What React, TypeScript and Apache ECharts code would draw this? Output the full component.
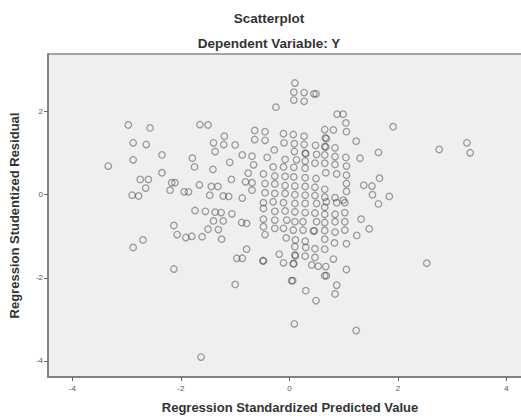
import React, { useEffect, useRef } from "react";
import * as echarts from "echarts";

const titleText = "Scatterplot";
const subtitleText = "Dependent Variable: Y";
const xAxisName = "Regression Standardized Predicted Value";
const yAxisName = "Regression Studentized Residual";
const xTicks = [-4, -2, 0, 2, 4];
const yTicks = [-4, -2, 0, 2];
const xRange = [-4.45, 4.47];
const yRange = [-4.39, 3.39];

const predicted = [
  0.10, 0.08, 0.27, 0.45, 0.49, 0.08, 0.27, -0.25, 0.88, 0.99,
  1.04, -2.97, -2.57, -1.65, -1.50, 1.91, 0.65, 0.81, 1.05, -1.20,
  -0.64, -0.45, -0.64, -0.45, -0.11, 0.07, 0.27, 0.66, 0.68, 1.23,
  3.27, 3.33, 2.76, -2.88, -2.64, -1.40, -1.21, -1.00, -0.10, 0.09,
  0.27, 0.48, 0.65, 0.67, 0.84, 1.64, -2.35, -1.37, -0.87, -0.69,
  -0.41, -0.28, 0.09, 0.29, 0.30, 0.50, 0.65, 0.84, 1.04, 1.30,
  -2.88, -3.34, -1.79, -1.75, -1.10, -1.41, -0.66, -0.08, 0.13, 0.29,
  -0.30, -0.11, 0.08, 0.29, 0.47, 0.65, 0.84, 1.05, -2.35, -0.76,
  -0.48, -2.75, -2.60, -2.65, -2.17, -2.11, -1.66, -1.44, -1.32, -1.07,
  -0.81, -0.69, -0.27, -0.08, 0.08, 0.29, 0.49, 0.67, 0.87, 1.05,
  1.66, -0.45, -0.27, -0.08, 0.10, 0.29, 0.47, 0.65, 1.05, 1.05,
  1.37, 1.52, -2.20, -1.94, -1.86, -1.47, -2.90, -2.78, -1.22, -1.12,
  -0.87, -0.69, -0.45, -0.27, -0.08, 0.10, 0.29, 0.47, 0.65, 0.84,
  1.53, 1.84, 1.64, 0.99, -0.48, -0.30, -0.11, 0.10, 0.29, 0.50,
  0.68, 0.87, 1.02, -1.74, -1.55, -1.37, -1.26, -1.06, -0.48, -0.27,
  -0.08, 0.10, 0.29, 0.47, 0.65, 0.84, 1.02, 0.65, -1.40, -1.22,
  -0.88, -0.79, -0.48, -0.27, -0.05, 0.10, 0.25, 0.50, 0.65, 0.84,
  1.02, 1.32, -2.13, -2.07, -1.91, -1.80, -1.61, -1.50, -1.31, -1.25,
  -0.48, -0.45, -0.27, -0.11, 0.07, 0.25, 0.44, 0.46, 0.65, 0.84,
  1.02, 1.47, 1.24, -0.06, 0.11, 0.29, 0.65, -2.88, -2.70, -0.79,
  0.10, 0.30, 0.47, 0.65, 0.83, 1.05, -0.97, -0.87, -0.49, -0.48,
  -0.19, 0.10, 0.11, 0.29, 0.47, 0.81, -0.11, 0.07, 0.08, 0.41,
  0.53, 0.67, 1.05, -2.13, 2.53, 0.06, 0.04, 0.65, 0.68, -1.00,
  0.87, 0.30, 0.84, 0.49, 0.09, 1.23, -1.63,
];

const residual = [
  2.69, 2.47, 2.46, 2.43, 2.43, 2.28, 2.25, 2.11, 1.94, 1.94,
  1.73, 1.68, 1.61, 1.69, 1.68, 1.64, 1.57, 1.56, 1.52, 1.41,
  1.55, 1.52, 1.33, 1.31, 1.47, 1.45, 1.41, 1.37, 1.35, 1.29,
  1.25, 1.01, 1.09, 1.25, 1.21, 1.25, 1.21, 1.20, 1.25, 1.23,
  1.21, 1.19, 1.16, 1.15, 1.13, 1.02, 0.96, 1.04, 0.96, 0.93,
  0.90, 1.08, 1.04, 1.00, 0.99, 0.97, 0.96, 0.92, 0.90, 0.88,
  0.84, 0.69, 0.88, 0.67, 0.78, 0.61, 0.72, 0.85, 0.84, 0.81,
  0.67, 0.67, 0.66, 0.64, 0.76, 0.76, 0.73, 0.69, 0.53, 0.52,
  0.50, 0.37, 0.37, 0.16, 0.29, 0.29, 0.24, 0.20, 0.20, 0.37,
  0.31, 0.29, 0.45, 0.44, 0.43, 0.41, 0.39, 0.53, 0.50, 0.47,
  0.40, 0.27, 0.26, 0.22, 0.21, 0.20, 0.18, 0.13, 0.27, 0.08,
  0.23, 0.21, 0.11, 0.07, 0.07, -0.01, -0.01, -0.03, -0.03, -0.04,
  -0.08, 0.11, 0.05, 0.03, 0.03, 0.00, -0.01, -0.02, -0.06, -0.07,
  0.00, -0.04, -0.22, -0.13, -0.19, -0.17, -0.19, -0.21, -0.21, -0.21,
  -0.17, -0.19, -0.19, -0.38, -0.40, -0.42, -0.43, -0.46, -0.33, -0.40,
  -0.39, -0.41, -0.43, -0.44, -0.47, -0.47, -0.43, -0.30, -0.63, -0.63,
  -0.67, -0.69, -0.59, -0.61, -0.61, -0.65, -0.65, -0.65, -0.67, -0.65,
  -0.65, -0.59, -0.74, -0.96, -1.03, -1.00, -1.01, -0.83, -0.84, -1.07,
  -0.77, -0.96, -0.81, -0.81, -0.85, -0.85, -0.87, -0.87, -0.86, -0.90,
  -0.85, -0.82, -0.98, -1.04, -1.09, -1.12, -1.07, -1.27, -1.09, -1.31,
  -1.25, -1.27, -1.30, -1.31, -1.16, -1.18, -1.53, -1.53, -1.59, -1.59,
  -1.43, -1.45, -1.47, -1.48, -1.51, -1.55, -1.64, -1.66, -1.66, -1.69,
  -1.72, -1.73, -1.80, -1.79, -1.65, -2.07, -2.07, -1.95, -1.95, -2.16,
  -2.18, -2.31, -2.39, -2.55, -3.11, -3.27, -3.91,
];

const FONT = '"Liberation Sans", Arial, Helvetica, sans-serif';

export default function App() {
  const ref = useRef<HTMLDivElement>(null);

  useEffect(() => {
    document.body.style.margin = "0";
    const chart = echarts.init(ref.current as HTMLDivElement, null, { renderer: "svg" });
    const points = predicted.map((x, i) => [x, residual[i]]);
    chart.setOption({
      animation: false,
      backgroundColor: "#ffffff",
      textStyle: { fontFamily: FONT },
      graphic: [
        {
          type: "text",
          x: 269,
          y: 18,
          silent: true,
          style: {
            text: titleText,
            font: `bold 13.5px ${FONT}`,
            fill: "#333333",
            align: "center",
            verticalAlign: "middle",
          },
        },
        {
          type: "text",
          x: 269,
          y: 43,
          silent: true,
          style: {
            text: subtitleText,
            font: `bold 13.5px ${FONT}`,
            fill: "#333333",
            align: "center",
            verticalAlign: "middle",
          },
        },
      ],
      grid: {
        left: 48,
        top: 54,
        right: -11,
        bottom: 39,
        show: true,
        backgroundColor: "#efefef",
        borderColor: "#888888",
        borderWidth: 1.5,
        containLabel: false,
        outerBoundsMode: "none",
      },
      xAxis: {
        type: "value",
        min: xRange[0],
        max: xRange[1],
        name: xAxisName,
        nameLocation: "middle",
        nameGap: 24,
        nameTextStyle: { fontSize: 13, fontWeight: "bold", color: "#333333", fontFamily: FONT },
        axisLine: { show: true, onZero: false, lineStyle: { color: "#777777", width: 1.5 } },
        axisTick: { show: true, length: 4, customValues: xTicks, lineStyle: { color: "#666666" } },
        axisLabel: { customValues: xTicks, fontSize: 8, color: "#555555", margin: 7, fontFamily: FONT },
        splitLine: { show: false },
      },
      yAxis: {
        type: "value",
        min: yRange[0],
        max: yRange[1],
        name: yAxisName,
        nameLocation: "middle",
        nameGap: 27,
        nameTextStyle: { fontSize: 13, fontWeight: "bold", color: "#333333", fontFamily: FONT },
        axisLine: { show: true, onZero: false, lineStyle: { color: "#777777", width: 1.5 } },
        axisTick: { show: true, length: 4, customValues: yTicks, lineStyle: { color: "#666666" } },
        axisLabel: { customValues: yTicks, fontSize: 8, color: "#555555", margin: 5, fontFamily: FONT },
        splitLine: { show: false },
      },
      series: [
        {
          type: "scatter",
          data: points,
          symbol: "circle",
          symbolSize: 6.5,
          silent: true,
          itemStyle: {
            color: "rgba(0,0,0,0)",
            borderColor: "rgba(60,60,60,0.6)",
            borderWidth: 1.3,
          },
          emphasis: { disabled: true },
        },
      ],
    });
    return () => chart.dispose();
  }, []);

  return <div ref={ref} style={{ width: 521, height: 416 }} />;
}
